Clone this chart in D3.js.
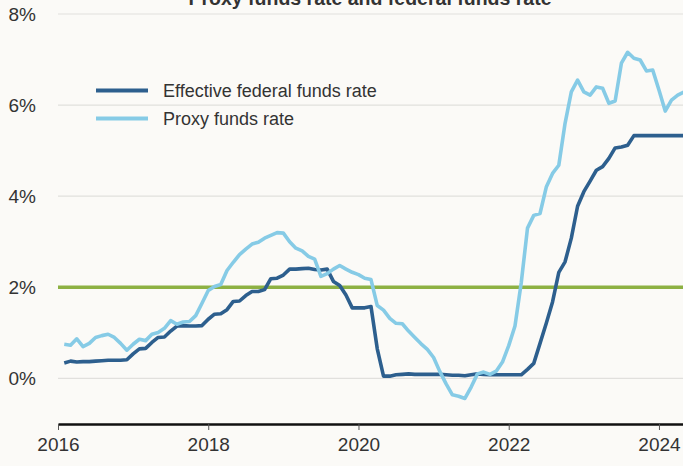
<!DOCTYPE html>
<html>
<head>
<meta charset="utf-8">
<script src="https://cdn.jsdelivr.net/npm/d3@7"></script>
<style>
  html, body { margin: 0; padding: 0; background: #fbfaf7; }
  svg { display: block; }
  text { font-family: "Liberation Sans", Arial, sans-serif; fill: #333; }
</style>
</head>
<body>
<div id="wrapper"></div>
<script>
// data: monthly values, Jan 2016 - Apr 2024 (plotted at month end)
const startYear = 2016;
const effectiveRate = [
  0.34, 0.38, 0.36, 0.37, 0.37, 0.38, 0.39, 0.40, 0.40, 0.40, 0.41, 0.54,
  0.65, 0.66, 0.79, 0.90, 0.91, 1.04, 1.15, 1.16, 1.15, 1.15, 1.16, 1.30,
  1.41, 1.42, 1.51, 1.69, 1.70, 1.82, 1.91, 1.91, 1.95, 2.19, 2.20, 2.27,
  2.40, 2.40, 2.41, 2.42, 2.39, 2.38, 2.40, 2.13, 2.04, 1.83, 1.55, 1.55,
  1.55, 1.58, 0.65, 0.05, 0.05, 0.08, 0.09, 0.10, 0.09, 0.09, 0.09, 0.09,
  0.09, 0.08, 0.07, 0.07, 0.06, 0.08, 0.10, 0.09, 0.08, 0.08, 0.08, 0.08,
  0.08, 0.08, 0.20, 0.33, 0.77, 1.21, 1.68, 2.33, 2.56, 3.08, 3.78, 4.10,
  4.33, 4.57, 4.65, 4.83, 5.06, 5.08, 5.12, 5.33, 5.33, 5.33, 5.33, 5.33,
  5.33, 5.33, 5.33, 5.33
];
const proxyRate = [
  0.75, 0.73, 0.87, 0.70, 0.77, 0.90, 0.94, 0.97, 0.90, 0.77, 0.62, 0.75,
  0.86, 0.83, 0.97, 1.01, 1.10, 1.27, 1.19, 1.24, 1.25, 1.38, 1.65, 1.93,
  2.02, 2.06, 2.37, 2.55, 2.72, 2.84, 2.95, 2.99, 3.08, 3.14, 3.20, 3.19,
  3.00, 2.86, 2.80, 2.68, 2.62, 2.24, 2.30, 2.40, 2.48, 2.40, 2.33, 2.28,
  2.20, 2.17, 1.60, 1.50, 1.32, 1.21, 1.20, 1.04, 0.90, 0.76, 0.64, 0.46,
  0.15, -0.12, -0.36, -0.39, -0.44, -0.19, 0.10, 0.14, 0.09, 0.16, 0.36, 0.72,
  1.15, 2.10, 3.30, 3.58, 3.62, 4.20, 4.50, 4.68, 5.60, 6.29, 6.55, 6.29,
  6.22, 6.40, 6.37, 6.04, 6.09, 6.92, 7.16, 7.03, 6.99, 6.75, 6.77, 6.33,
  5.87, 6.11, 6.22, 6.29
];
const targetRate = 2;
const yTicks = [0, 2, 4, 6, 8];
const xTicks = [2016, 2018, 2020, 2022, 2024];
const seriesNames = ["Effective federal funds rate", "Proxy funds rate"];
const titleText = "Proxy funds rate and federal funds rate";

const colors = { effective: "#2d5f8e", proxy: "#86cbe6", target: "#8db143" };

// 1. dimensions
const width = 683;
const height = 466;
const margin = { top: 14, right: 0, bottom: 42, left: 58 };

// 2. canvas
const svg = d3.select("#wrapper")
  .append("svg")
  .attr("width", width)
  .attr("height", height);

// 3. scales
const xScale = d3.scaleLinear()
  .domain([2016, 2024.32])
  .range([margin.left, width - margin.right]);

const yScale = d3.scaleLinear()
  .domain([-1, 8])
  .range([height - margin.bottom, margin.top]);

const monthTime = (i) => startYear + (i + 1) / 12;

// 4. gridlines + y labels
const grid = svg.append("g");
grid.selectAll("line")
  .data(yTicks)
  .join("line")
  .attr("x1", margin.left)
  .attr("x2", width)
  .attr("y1", (d) => yScale(d))
  .attr("y2", (d) => yScale(d))
  .attr("stroke", "#e1e0dd")
  .attr("stroke-width", 1.2);

grid.selectAll("text")
  .data(yTicks)
  .join("text")
  .attr("x", 36)
  .attr("y", (d) => yScale(d))
  .attr("dy", "0.35em")
  .attr("text-anchor", "end")
  .style("font-size", "19px")
  .text((d) => `${d}%`);

// 2% target line
svg.append("line")
  .attr("x1", margin.left)
  .attr("x2", width)
  .attr("y1", yScale(targetRate))
  .attr("y2", yScale(targetRate))
  .attr("stroke", colors.target)
  .attr("stroke-width", 3.5);

// 5. x axis
const xAxis = d3.axisBottom(xScale)
  .tickValues(xTicks)
  .tickFormat(d3.format("d"))
  .tickSize(6)
  .tickSizeOuter(0);

const xAxisGroup = svg.append("g")
  .attr("transform", `translate(0, ${yScale(-1)})`)
  .call(xAxis);
xAxisGroup.select(".domain")
  .attr("stroke", "#111")
  .attr("stroke-width", 2.5);
xAxisGroup.selectAll(".tick line").attr("stroke", "#555");
xAxisGroup.selectAll(".tick text")
  .attr("y", 14)
  .style("font-size", "19px")
  .style("font-family", "Liberation Sans, Arial, sans-serif")
  .attr("fill", "#333");

// 6. lines
const line = d3.line()
  .x((d, i) => xScale(monthTime(i)))
  .y((d) => yScale(d));

svg.append("path")
  .datum(effectiveRate)
  .attr("fill", "none")
  .attr("stroke", colors.effective)
  .attr("stroke-width", 3.6)
  .attr("stroke-linejoin", "round")
  .attr("d", line);

svg.append("path")
  .datum(proxyRate)
  .attr("fill", "none")
  .attr("stroke", colors.proxy)
  .attr("stroke-width", 3.6)
  .attr("stroke-linejoin", "round")
  .attr("d", line);

// 7. legend
const legend = svg.append("g");
const legendColors = [colors.effective, colors.proxy];
seriesNames.forEach((name, i) => {
  const y = 90.5 + i * 28;
  legend.append("line")
    .attr("x1", 96)
    .attr("x2", 148)
    .attr("y1", y)
    .attr("y2", y)
    .attr("stroke", legendColors[i])
    .attr("stroke-width", 4);
  legend.append("text")
    .attr("x", 163)
    .attr("y", y)
    .attr("dy", "0.35em")
    .style("font-size", "18px")
    .text(name);
});

// title (cut off at top)
svg.append("text")
  .attr("x", 370)
  .attr("y", 5)
  .attr("text-anchor", "middle")
  .style("font-size", "19.5px")
  .style("font-weight", "bold")
  .text(titleText);
</script>
</body>
</html>
